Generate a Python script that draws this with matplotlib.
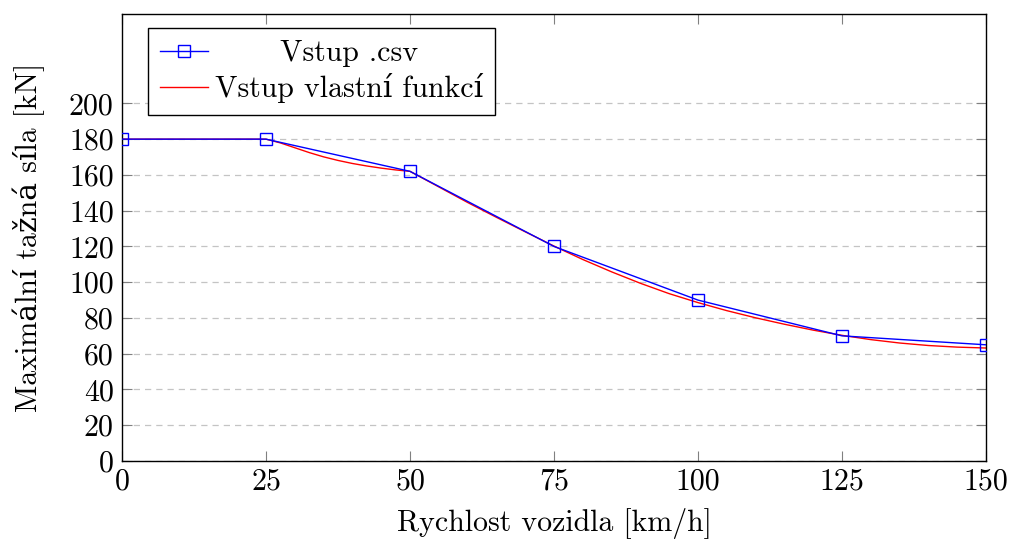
import matplotlib
matplotlib.use('Agg')
import matplotlib.pyplot as plt

plt.rcParams['font.family'] = ['cmr10', 'DejaVu Serif']
plt.rcParams['mathtext.fontset'] = 'cm'
plt.rcParams['axes.unicode_minus'] = False
plt.rcParams['axes.formatter.use_mathtext'] = True

# blue series: values from the .csv input
csv_speed = [0, 25, 50, 75, 100, 125, 150]
csv_force = [180, 180, 162, 120, 90, 70, 65]

# red series: own-function input
fun_speed = [0, 25, 27.5, 30, 32.5, 35, 37.5, 40, 42.5, 45, 47.5, 50,
             55, 60, 65, 70, 75, 80, 85, 90, 95,
             100, 105, 110, 115, 120, 125, 130, 135, 140, 145, 150]
fun_force = [180, 180, 177.9, 175.2, 172.5, 170.1, 168.1, 166.4, 165.0, 163.8, 162.8, 162.0,
             153.3, 144.6, 136.3, 128.2, 120.2, 112.7, 105.8, 99.4, 93.6,
             88.6, 84.1, 80.1, 76.5, 73.2, 70.3, 67.9, 66.0, 64.6, 63.7, 63.2]

xticks = [0, 25, 50, 75, 100, 125, 150]
yticks = list(range(0, 201, 20))
FS = 21.5

fig = plt.figure(figsize=(10.10, 5.42), dpi=100)
ax = fig.add_axes([0.1208, 0.1494, 0.8554, 0.8248])

ax.plot(csv_speed, csv_force, color='blue', lw=1.0, marker='s', markersize=8.5,
        markerfacecolor='none', markeredgecolor='blue', markeredgewidth=1.0,
        label='Vstup .csv', zorder=3)
ax.plot(fun_speed, fun_force, color='red', lw=1.0, label='Vstup vlastní funkcí', zorder=2)

ax.set_xlim(0, 150)
ax.set_ylim(0, 250)
ax.set_xticks(xticks)
ax.set_yticks(yticks)
ax.set_xticklabels([str(v) for v in xticks])
ax.set_yticklabels([str(v) for v in yticks])
ax.yaxis.grid(True, color='#c4c4c4', linestyle=(0, (5, 4)), lw=0.9)
ax.set_axisbelow(True)

ax.tick_params(direction='in', top=True, right=True, length=7, width=0.8,
               color='#808080', labelsize=FS)
ax.tick_params(axis='y', pad=6)
ax.tick_params(axis='x', pad=5)
for s in ax.spines.values():
    s.set_color('black')
    s.set_linewidth(1.0)

ax.set_xlabel('Rychlost vozidla [km/h]', fontsize=FS, labelpad=9)
ax.set_ylabel('Maximální tažná síla [kN]', fontsize=FS, labelpad=17)

leg = ax.legend(loc='upper left', bbox_to_anchor=(0.03, 0.969), borderaxespad=0,
                fontsize=FS, frameon=True, fancybox=False,
                edgecolor='black', framealpha=1, borderpad=0.4, handlelength=1.6,
                handletextpad=0.25, labelspacing=0.2)
leg.get_frame().set_linewidth(1.0)

# pgfplots centres the legend entries; shift the shorter label to the middle
fig.canvas.draw()
r = fig.canvas.get_renderer()
texts = leg.get_texts()
widths = [t.get_window_extent(r).width for t in texts]
wmax = max(widths)
for t, w in zip(texts, widths):
    t.set_position(((wmax - w) / 2, 0))

fig.savefig('out.png', dpi=100)
